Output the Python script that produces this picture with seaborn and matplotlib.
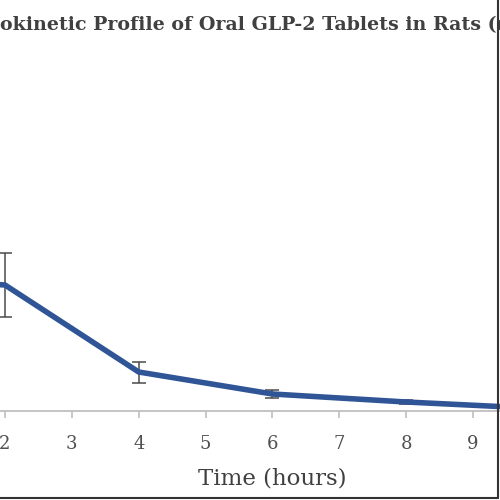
import matplotlib
matplotlib.use("Agg")
import matplotlib.pyplot as plt
from matplotlib.lines import Line2D
import seaborn as sns
import pandas as pd

# ---- data (hours, concentration units) ----
time_h = [0.5, 1, 2, 4, 6, 8, 10, 12]
conc = [9.0, 13.0, 12.6, 3.9, 1.7, 0.9, 0.25, 0.1]
conc_sd = [2.0, 3.0, 3.2, 1.05, 0.4, 0.2, 0.1, 0.05]
x_ticks = list(range(0, 13))
title_text = "Pharmacokinetic Profile of Oral GLP-2 Tablets in Rats (n=6)"
x_label = "Time (hours)"

df = pd.DataFrame({"time": time_h, "conc": conc, "sd": conc_sd})

sns.set_theme(style="white")
plt.rcParams["font.family"] = ["DejaVu Serif", "DejaVu Sans"]

W, H = 500, 500
fig = plt.figure(figsize=(5, 5), dpi=100)
fig.patch.set_facecolor("white")

px_per_h = 66.86
left_px = 5 - 2 * px_per_h
width_px = 12 * px_per_h
bottom_px = 89
top_px = 60
height_px = H - top_px - bottom_px
ax = fig.add_axes([left_px / W, bottom_px / H, width_px / W, height_px / H])

ax.errorbar(df["time"], df["conc"], yerr=df["sd"], fmt="none",
            ecolor="#4a4a4a", elinewidth=1.1, capsize=5, capthick=1.1, zorder=2)
sns.lineplot(data=df, x="time", y="conc", ax=ax, color="#2F5597",
             linewidth=4.0, zorder=3, solid_joinstyle="miter")

ax.set_xlim(0, 12)
ax.set_ylim(0, height_px / 10)
ax.set_xticks(x_ticks)
ax.set_xticklabels([str(t) for t in x_ticks])
ax.set_yticks([])
ax.set_ylabel("")
ax.set_xlabel(x_label, fontsize=16.5, color="#404040", labelpad=11)
for s in ["top", "right", "left"]:
    ax.spines[s].set_visible(False)
ax.spines["bottom"].set_color("#BFBFBF")
ax.spines["bottom"].set_linewidth(1.3)
ax.tick_params(axis="x", direction="out", length=5, width=1.2, color="#BFBFBF",
               labelsize=13, labelcolor="#505050", pad=12, bottom=True)
ax.set_facecolor("white")

# Title: positioned so the chart appears cropped like the reference
fig.canvas.draw()
renderer = fig.canvas.get_renderer()
tfs = 13.7
tmp = fig.text(0, 0, "Pharmac", fontsize=tfs, fontweight="bold")
pre_w = tmp.get_window_extent(renderer).width
tmp.remove()
fig.text(-pre_w / W, 1 - 25 / H, title_text, fontsize=tfs, fontweight="bold",
         color="#404040", ha="left", va="center")

# chart-area border (right and bottom visible)
fig.add_artist(Line2D([497.5 / W, 497.5 / W], [2 / H, 1.0], transform=fig.transFigure,
                      color="#333333", linewidth=1.5))
fig.add_artist(Line2D([0, 497.5 / W], [2 / H, 2 / H], transform=fig.transFigure,
                      color="#333333", linewidth=1.5))

fig.savefig("out.png", dpi=100)
